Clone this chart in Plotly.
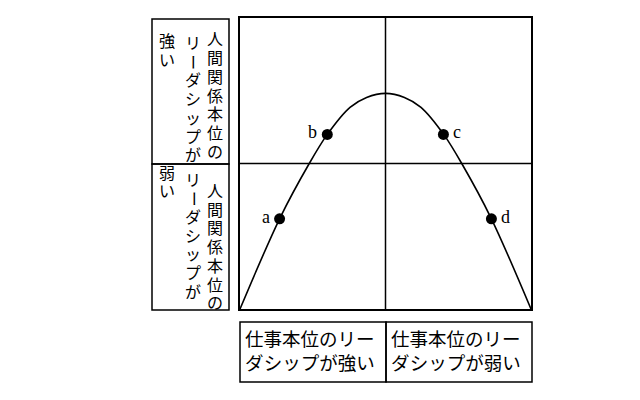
"""
Leadership quadrant chart: task-oriented vs people-oriented leadership
"""

import plotly.graph_objects as go

# curve (box is 0..10 in both directions)
curve_x = [0, 1.36, 2.38, 3.0, 3.78, 4.35, 5.0, 5.65, 6.22, 7.0, 7.62, 8.64, 10]
curve_y = [0, 3.1, 5.0, 6.0, 6.93, 7.27, 7.41, 7.27, 6.93, 6.0, 5.0, 3.1, 0]

point_labels = ['a', 'b', 'c', 'd']
point_x = [1.36, 3.0, 6.99, 8.64]
point_y = [3.1, 6.0, 6.0, 3.1]

people_strong = ['人間関係本位の', 'リーダシップが', '強い']
people_weak = ['人間関係本位の', 'リーダシップが', '弱い']
task_strong = ['仕事本位のリー', 'ダシップが強い']
task_weak = ['仕事本位のリー', 'ダシップが弱い']

# latin font first keeps the line boxes compact, kana/kanji fall back to Noto CJK
JP_FONT = 'Liberation Sans, Noto Sans CJK JP'


def px_x(p):
    # pixel -> paper x (plot area spans 240..531)
    return (p - 240) / 291


def px_y(p):
    # pixel -> paper y (plot area spans 18..309)
    return (309 - p) / 291


fig = go.Figure()

fig.add_trace(go.Scatter(
    x=curve_x, y=curve_y,
    mode='lines',
    line=dict(color='black', width=1.6, shape='spline', smoothing=0.9),
    hoverinfo='skip'
))

fig.add_trace(go.Scatter(
    x=point_x, y=point_y,
    mode='markers',
    marker=dict(color='black', size=11),
    hoverinfo='skip'
))

# point letters: a, b to the left; c, d to the right
for lab, xv, yv in zip(point_labels, point_x, point_y):
    left = xv < 5
    fig.add_annotation(
        x=xv, y=yv, xref='x', yref='y',
        text=lab, showarrow=False,
        xanchor='right' if left else 'left',
        xshift=-8 if left else 8, yshift=2,
        font=dict(family='Liberation Serif', size=18, color='black')
    )

line_style = dict(color='black', width=1.5)

# quadrant dividers
fig.add_shape(type='line', x0=5, x1=5, y0=0, y1=10, xref='x', yref='y', line=line_style)
fig.add_shape(type='line', x0=0, x1=10, y0=5, y1=5, xref='x', yref='y', line=line_style)

# left label boxes
for y0, y1 in [(19, 164), (164, 310)]:
    fig.add_shape(type='rect', xref='paper', yref='paper',
                  x0=px_x(152), x1=px_x(229), y0=px_y(y1), y1=px_y(y0),
                  line=line_style)

# bottom label boxes
for x0, x1 in [(240, 386), (386, 532)]:
    fig.add_shape(type='rect', xref='paper', yref='paper',
                  x0=px_x(x0), x1=px_x(x1), y0=px_y(382), y1=px_y(322),
                  line=line_style)


def vertical_text(lines, col_x, col_start, step=18.7):
    # one annotation per character; the long vowel mark is turned upright
    for text, cx, cy in zip(lines, col_x, col_start):
        for i, ch in enumerate(text):
            fig.add_annotation(
                x=px_x(cx), y=px_y(cy + i * step), xref='paper', yref='paper',
                text=ch, showarrow=False, xanchor='center', yanchor='middle',
                textangle=90 if ch == 'ー' else 0, borderpad=0,
                font=dict(family=JP_FONT, size=16, color='black')
            )


vertical_text(people_strong, [215, 193, 167], [40, 43.5, 41.5])
vertical_text(people_weak, [215, 193, 167], [191.5, 180, 173])

for lines, x0 in [(task_strong, 244), (task_weak, 390)]:
    fig.add_annotation(
        x=px_x(x0), y=px_y(351), xref='paper', yref='paper',
        text='<br>'.join(lines), showarrow=False, align='left',
        xanchor='left', yanchor='middle', borderpad=0,
        font=dict(family=JP_FONT, size=18.5, color='black')
    )

axis_style = dict(
    range=[0, 10], showgrid=False, zeroline=False, showticklabels=False,
    ticks='', showline=True, linecolor='black', linewidth=2, mirror=True,
    fixedrange=True
)

fig.update_layout(
    width=640, height=400,
    margin=dict(l=240, r=109, t=18, b=91),
    paper_bgcolor='white', plot_bgcolor='white',
    showlegend=False,
    xaxis=axis_style,
    yaxis=axis_style,
)

fig.write_html("out.html", config={'displayModeBar': False},
               post_script="document.body.style.margin='0';")
